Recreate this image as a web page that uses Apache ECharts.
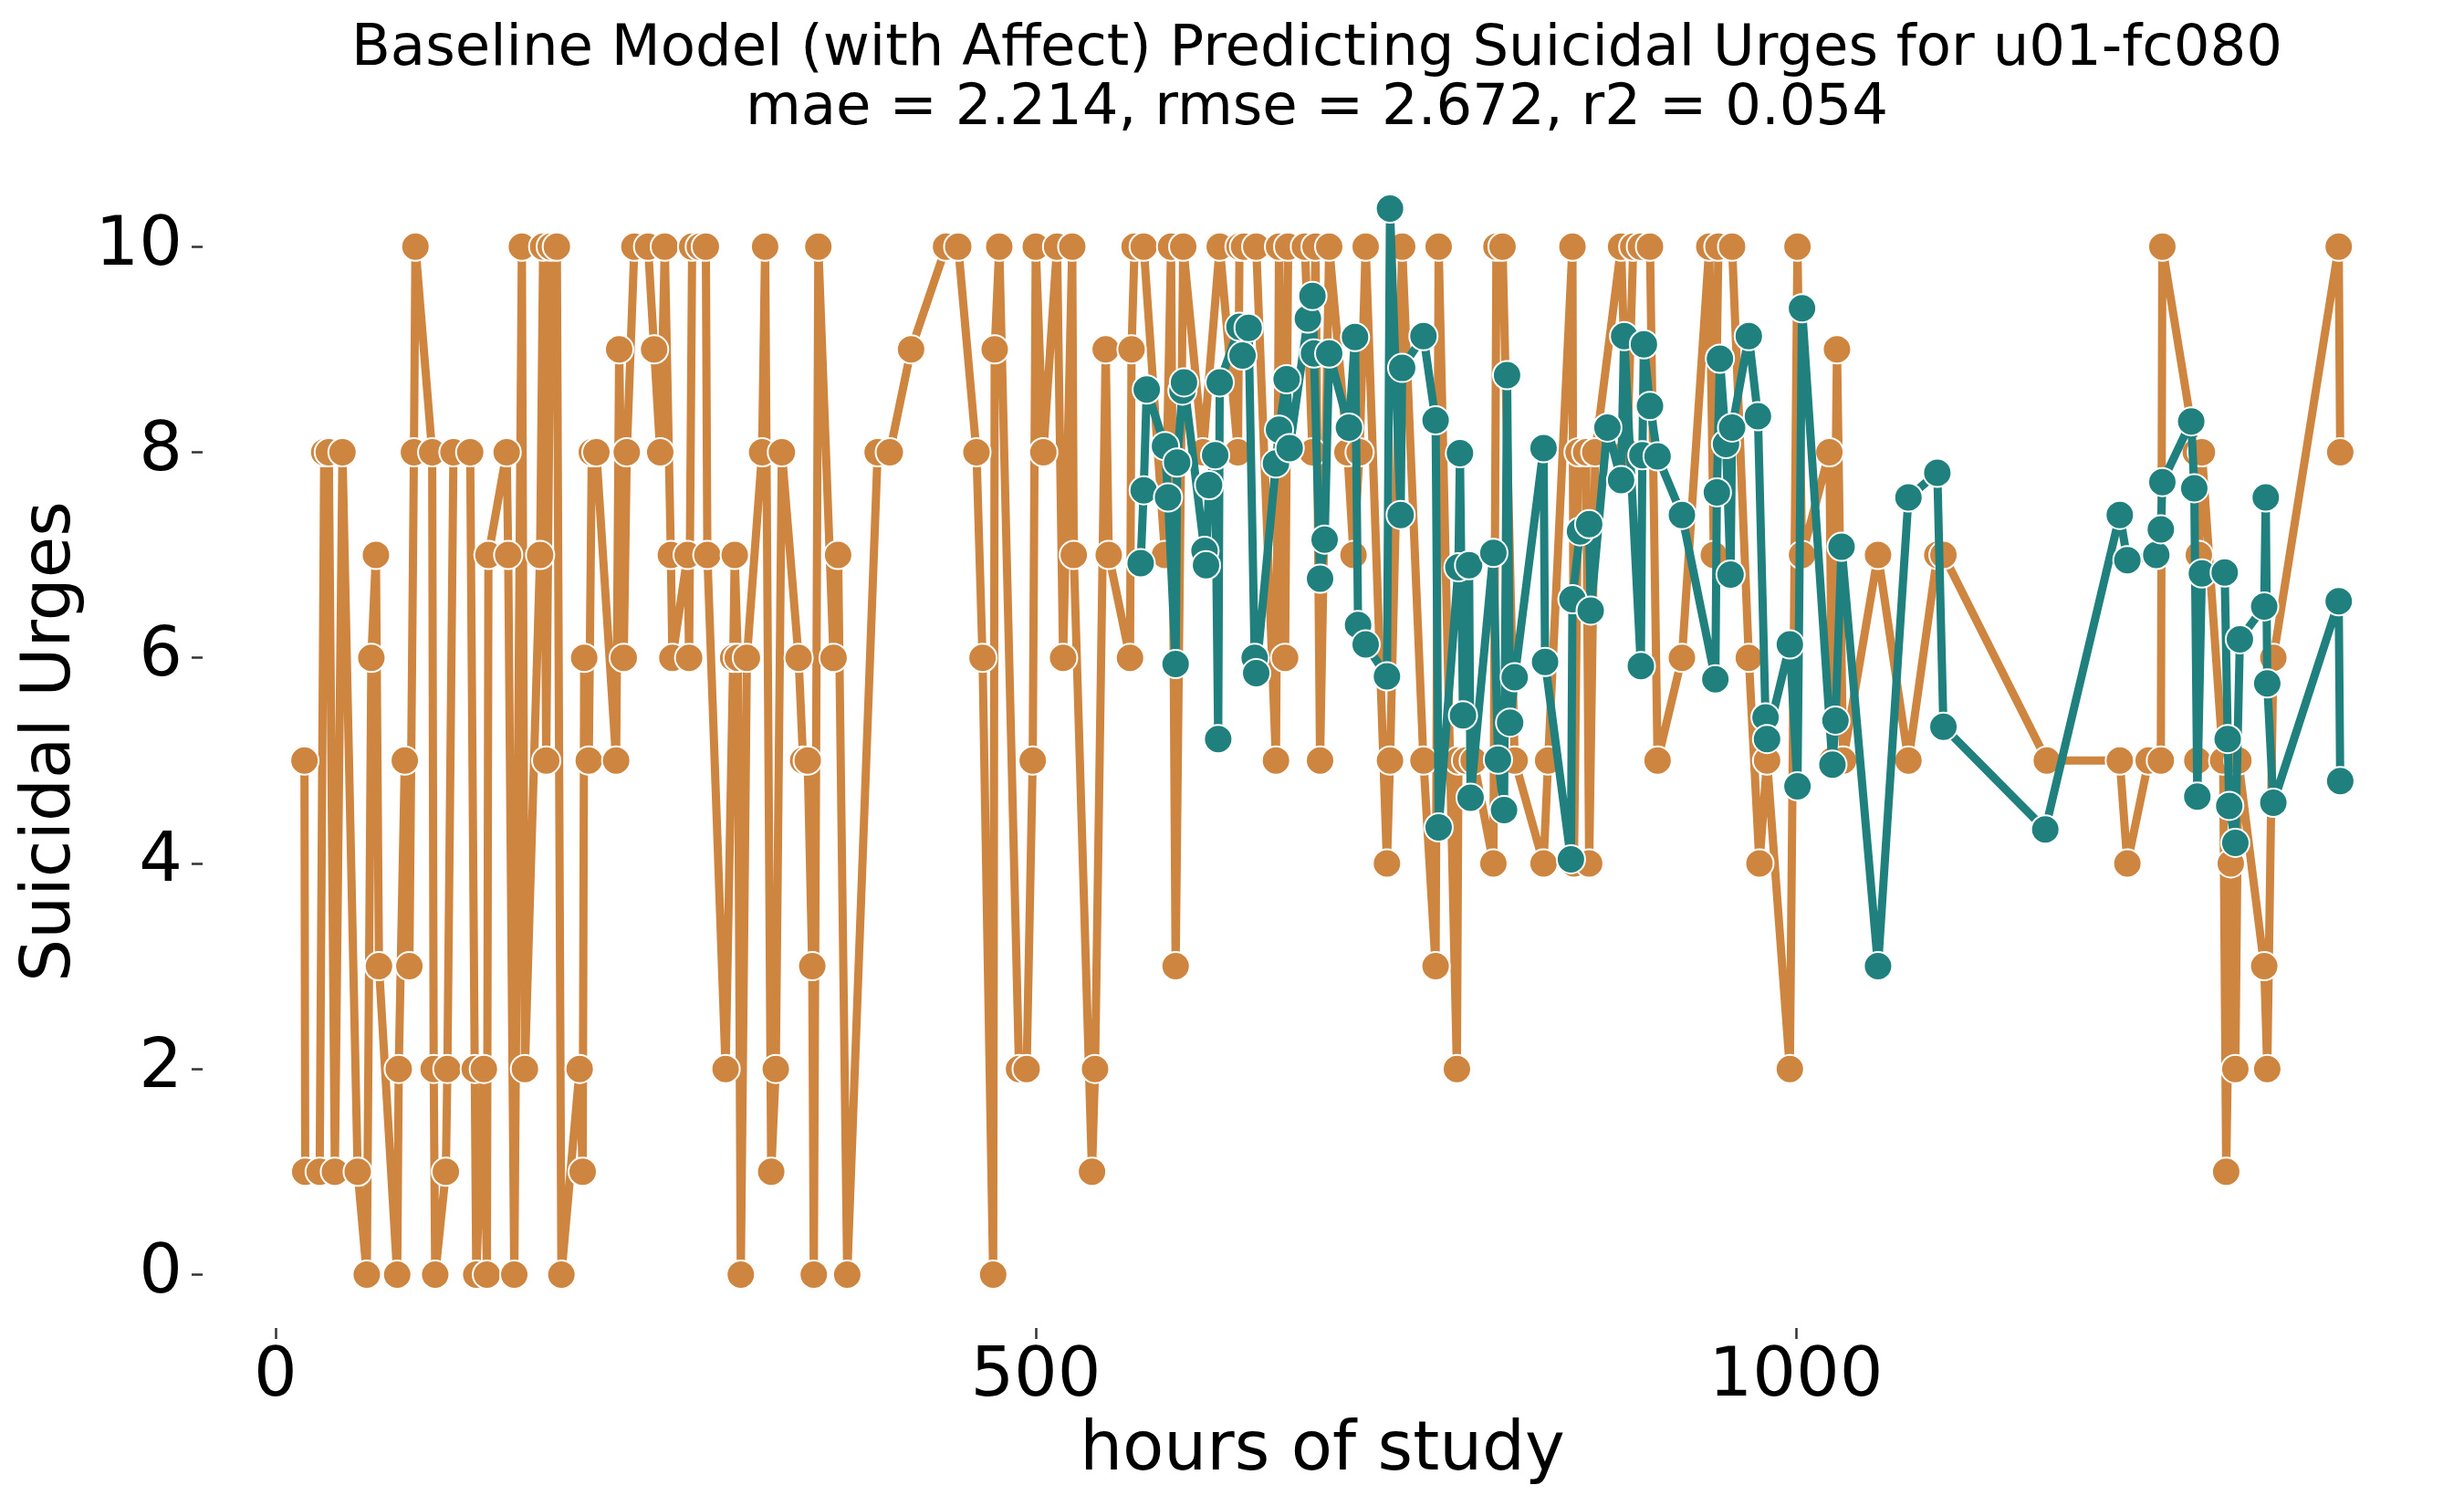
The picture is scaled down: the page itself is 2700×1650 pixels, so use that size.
<!DOCTYPE html>
<html>
<head>
<meta charset="utf-8">
<script src="https://cdn.jsdelivr.net/npm/echarts@6/dist/echarts.min.js"></script>
<style>
  html, body { margin: 0; padding: 0; background: #ffffff; }
  #chart { width: 2700px; height: 1650px; }
</style>
</head>
<body>
<div id="chart"></div>
<script>
const titleLine1 = 'Baseline Model (with Affect) Predicting Suicidal Urges for u01-fc080';
const titleLine2 = 'mae = 2.214, rmse = 2.672, r2 = 0.054';
const xAxisName = 'hours of study';
const yAxisName = 'Suicidal Urges';
const xTicks = [0, 500, 1000];
const yTicks = [0, 2, 4, 6, 8, 10];

// Observed (orange) series
const actualHours = [19,19.5,29,32,35,39,44,54,60,63,66,68,80,81,85,88,91,92,103,104,105,112,113,117,128,131,132,137,139,140,152,153,157,162,164,174,176,178,181,185,188,200,202,203,206,208,211,224,226,229,231,236,245,249,253,256,260,261,271,272,274,279,283,284,296,301,302,304,306,310,320,322,326,329,333,344,347,350,353,354,357,367,370,376,396,404,418,441,449,461,465,472,473,476,489,494,498,500,505,514,518,524,525,537,539,546,548,562,563,565,571,585,589,592,597,610,621,633,634,637,645,658,660,664,666,677,682,684,687,693,705,709,713,717,731,733,741,755,763,765,777,778,783,788,801,803,807,815,834,837,853,854,857,862,864,868,885,889,893,898,904,909,925,943,946,949,958,969,976,981,996,1001,1004,1022,1024,1027,1031,1054,1074,1093,1097,1165,1213,1218,1232,1240,1241,1263,1264,1265,1267,1281,1283,1286,1289,1291,1308,1310,1314,1357,1358];
const actualValues = [5,1,1,8,8,1,8,1,0,6,7,3,0,2,5,3,8,10,8,2,0,1,2,8,8,2,0,2,0,7,8,7,0,10,2,7,10,5,10,10,0,2,1,6,5,8,8,5,9,6,8,10,10,9,8,10,7,6,7,6,10,10,10,7,2,6,7,6,0,6,8,10,1,2,8,6,5,5,3,0,10,6,7,0,8,8,9,10,10,8,6,0,9,10,2,2,5,10,8,10,6,10,7,1,2,9,7,6,9,10,10,7,10,3,10,8,10,8,10,10,10,5,10,6,10,10,8,10,5,10,8,7,8,10,4,5,10,5,3,10,2,5,5,5,4,10,10,5,4,5,10,4,8,8,4,8,10,8,10,10,10,5,6,10,7,10,10,6,4,5,2,10,7,8,5,9,5,7,5,7,7,5,5,4,5,5,10,8,5,7,8,5,1,4,2,5,3,2,6,10,8];

// Predicted (teal) series
const predHours = [569,571,573,585,587,592,593,596.5,597.5,611,612,614,618,620,621,634,636,640,644,645,658,660,665,667,679,682,683,687,690,693,706,710,712,717,731,733,740,741,755,763,765,778,779,781,785,786,801,804,808,810,812,815,834,835,852,853,858,864,865,876,885,887,898,899,900,904,909,925,947,948,950,954,957,958,969,975,980,981,996,1001,1004,1024,1026,1030,1054,1074,1093,1097,1164,1213,1218,1237,1240,1241,1260,1262,1264,1267,1282,1284,1285,1289,1292,1308,1309,1310,1314,1357,1358];
const predValues = [6.92,7.63,8.61,8.06,7.56,5.94,7.9,8.6,8.68,7.04,6.9,7.68,7.97,5.21,8.68,9.22,8.94,9.21,6.0,5.85,7.89,8.22,8.71,8.04,9.3,9.52,8.96,6.77,7.15,8.96,8.24,9.12,6.32,6.13,5.82,10.37,7.39,8.82,9.13,8.31,4.35,6.88,7.99,5.44,6.9,4.64,7.02,5.01,4.52,8.75,5.37,5.81,8.04,5.96,4.04,6.57,7.23,7.3,6.46,8.24,7.73,9.13,5.92,7.97,9.05,8.45,7.96,7.39,5.79,7.61,8.91,8.08,6.81,8.24,9.13,8.35,5.42,5.21,6.13,4.75,9.4,4.96,5.39,7.08,3.0,7.56,7.8,5.33,4.33,7.39,6.95,7.0,7.25,7.71,8.3,7.65,4.65,6.82,6.83,5.21,4.56,4.2,6.18,6.5,7.56,5.75,4.59,6.55,4.8];

const actualData = actualHours.map((h, i) => [h, actualValues[i]]);
const predData = predHours.map((h, i) => [h, predValues[i]]);

const FONT = 'DejaVu Sans';
const chart = echarts.init(document.getElementById('chart'), null, { renderer: 'canvas' });

chart.setOption({
  animation: false,
  backgroundColor: '#ffffff',
  title: {
    text: titleLine1 + '\n' + titleLine2,
    left: 1443,
    top: 22,
    padding: 0,
    textAlign: 'center',
    textStyle: { fontFamily: FONT, fontSize: 62.5, fontWeight: 'normal', color: '#000000', lineHeight: 65 }
  },
  grid: { left: 222, right: 24, top: 170, bottom: 195, containLabel: false, outerBoundsMode: 'none' },
  xAxis: {
    type: 'value',
    min: -48,
    max: 1425,
    name: xAxisName,
    nameLocation: 'middle',
    nameGap: 99,
    nameTextStyle: { fontFamily: FONT, fontSize: 74, color: '#000000', verticalAlign: 'top' },
    axisLine: { show: false, onZero: false },
    splitLine: { show: false },
    axisTick: { show: true, length: 12, lineStyle: { color: '#333333', width: 2.5 }, customValues: xTicks },
    axisLabel: { fontFamily: FONT, fontSize: 75, color: '#000000', margin: 17, customValues: xTicks, formatter: v => String(v) }
  },
  yAxis: {
    type: 'value',
    min: -0.52,
    max: 10.89,
    name: yAxisName,
    nameLocation: 'middle',
    nameRotate: 90,
    nameGap: 128,
    nameTextStyle: { fontFamily: FONT, fontSize: 74, color: '#000000' },
    axisLine: { show: false, onZero: false },
    splitLine: { show: false },
    axisTick: { show: true, length: 12, lineStyle: { color: '#333333', width: 2.5 }, customValues: yTicks },
    axisLabel: { fontFamily: FONT, fontSize: 75, color: '#000000', margin: 22, customValues: yTicks, formatter: v => String(v) }
  },
  series: [
    {
      name: 'actual',
      type: 'line',
      data: actualData,
      symbol: 'circle',
      symbolSize: 31,
      showAllSymbol: true,
      lineStyle: { color: '#cd853f', width: 9 },
      itemStyle: { color: '#cd853f', borderColor: '#ffffff', borderWidth: 2 },
      emphasis: { disabled: true },
      z: 2
    },
    {
      name: 'predicted',
      type: 'line',
      data: predData,
      symbol: 'circle',
      symbolSize: 31,
      showAllSymbol: true,
      lineStyle: { color: '#1f807e', width: 9 },
      itemStyle: { color: '#1f807e', borderColor: '#ffffff', borderWidth: 2 },
      emphasis: { disabled: true },
      z: 3
    }
  ]
});
</script>
</body>
</html>
